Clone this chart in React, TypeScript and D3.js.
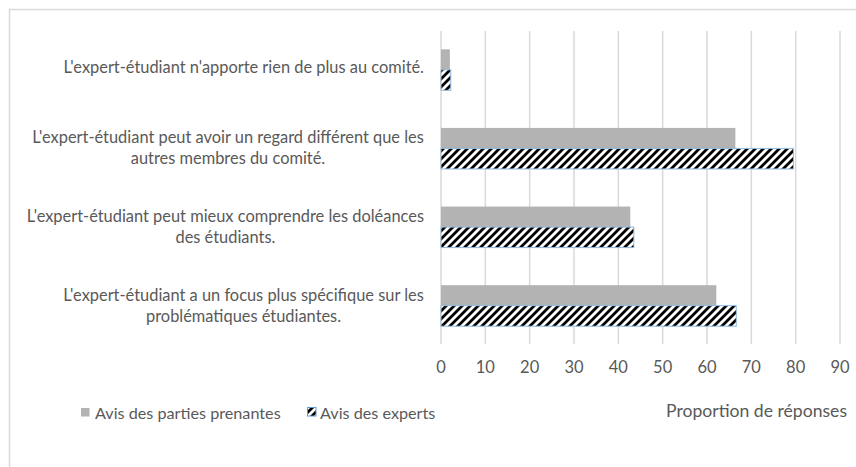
import React from "react";
import * as d3 from "d3";

const categories: string[][] = [
  ["L'expert-étudiant n'apporte rien de plus au comité."],
  ["L'expert-étudiant peut avoir un regard différent que les", "autres membres du comité."],
  ["L'expert-étudiant peut mieux comprendre les doléances", "des étudiants."],
  ["L'expert-étudiant a un focus plus spécifique sur les", "problématiques étudiantes."],
];
const seriesNames = ["Avis des parties prenantes", "Avis des experts"];
const partiesPrenantes = [2.0, 66.4, 42.7, 62.1];
const experts = [2.2, 79.5, 43.5, 66.6];
const xTicks = [0, 10, 20, 30, 40, 50, 60, 70, 80, 90];
const axisTitle = "Proportion de réponses";

const FONT = "Lato, 'Open Sans', sans-serif";
const TXT = "#595959";

let canvasCtx: CanvasRenderingContext2D | null = null;
function measure(text: string, size: number) {
  if (!canvasCtx) {
    const c = document.createElement("canvas");
    canvasCtx = c.getContext("2d");
  }
  if (!canvasCtx) return text.length * size * 0.5;
  canvasCtx.font = `${size}px ${FONT}`;
  return canvasCtx.measureText(text).width;
}

export default function App() {
  const W = 856, H = 467;
  const x = d3.scaleLinear().domain([0, 90]).range([441, 840]);
  const idx = categories.map((_, i) => i);
  const y = d3.scaleBand<number>().domain(idx).range([30.5, 345]).padding(0);
  const groupH = 41;
  const ys = d3.scaleBand<number>().domain([0, 1]).range([0, groupH]).padding(0);
  const labelSize = 16.4;
  const lineH = 21;
  const labelRight = 424;

  return (
    <svg width={W} height={H} style={{ position: "absolute", left: 0, top: 0, background: "#fff" }}>
      <defs>
        <pattern id="hatch" patternUnits="userSpaceOnUse" width={8} height={8}>
          <rect width={8} height={8} fill="#fff" />
          <path d="M-2,2 L2,-2 M0,8 L8,0 M6,10 L10,6" stroke="#000" strokeWidth={2.8} />
        </pattern>
      </defs>
      <rect x={0} y={0} width={W} height={H} fill="#fff" />
      <rect x={9.5} y={9.5} width={W + 20} height={H + 20} fill="none" stroke="#d9d9d9" strokeWidth={1.5} />
      {xTicks.map((t) => (
        <line key={"g" + t} x1={x(t)} x2={x(t)} y1={31} y2={344} stroke="#d9d9d9" strokeWidth={1.5} />
      ))}
      {idx.map((i) => {
        const gy = (y(i) as number) + (y.bandwidth() - groupH) / 2;
        return (
          <g key={"b" + i}>
            <rect x={x(0)} y={gy + (ys(0) as number)} width={x(partiesPrenantes[i]) - x(0)} height={ys.bandwidth()} fill="#b3b3b3" />
            <rect x={x(0)} y={gy + (ys(1) as number)} width={x(experts[i]) - x(0)} height={ys.bandwidth()} fill="url(#hatch)" stroke="#8fb8e0" strokeWidth={1} />
          </g>
        );
      })}
      {categories.map((lines, i) => {
        const cy = (y(i) as number) + y.bandwidth() / 2;
        const maxW = Math.max(...lines.map((l) => measure(l, labelSize)));
        const cx = labelRight - maxW / 2;
        const y0 = cy - ((lines.length - 1) * lineH) / 2 + (lines.length > 1 ? -1 : -3);
        return (
          <g key={"l" + i}>
            {lines.map((l, j) => (
              <text key={j} x={cx} y={y0 + j * lineH} textAnchor="middle" dominantBaseline="central" fontFamily={FONT} fontSize={labelSize} fill={TXT}>
                {l}
              </text>
            ))}
          </g>
        );
      })}
      {xTicks.map((t) => (
        <text key={"t" + t} x={x(t)} y={367} textAnchor="middle" dominantBaseline="central" fontFamily={FONT} fontSize={16.5} fill={TXT}>
          {t}
        </text>
      ))}
      <text x={847} y={410} textAnchor="end" dominantBaseline="central" fontFamily={FONT} fontSize={17.6} fill={TXT}>
        {axisTitle}
      </text>
      <rect x={81} y={408} width={8.5} height={8.5} fill="#b3b3b3" />
      <text x={95} y={412} dominantBaseline="central" fontFamily={FONT} fontSize={16.2} fill={TXT}>
        {seriesNames[0]}
      </text>
      <rect x={307.5} y={407.5} width={8.5} height={8.5} fill="url(#hatch)" stroke="#5b9bd5" strokeWidth={1} />
      <text x={320} y={412} dominantBaseline="central" fontFamily={FONT} fontSize={16.2} fill={TXT}>
        {seriesNames[1]}
      </text>
    </svg>
  );
}
